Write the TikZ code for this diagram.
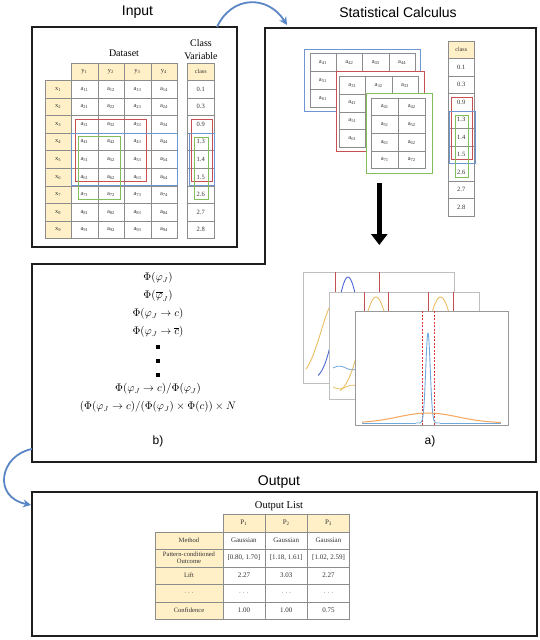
\documentclass[tikz,border=0pt]{standalone}
\usepackage{fontspec}
\setmainfont{Liberation Serif}
\newfontfamily\arialfont{Liberation Sans}
\usetikzlibrary{arrows.meta}
\definecolor{hdr}{HTML}{FFF0C8}
\definecolor{gridcol}{HTML}{8C8C8C}
\definecolor{framecol}{HTML}{1E1E1E}
\definecolor{selred}{HTML}{C85050}
\definecolor{selblue}{HTML}{6E96D2}
\definecolor{selgreen}{HTML}{82BE5A}
\definecolor{arrblue}{HTML}{5A86C5}
\definecolor{pdblue}{HTML}{4A68D0}
\definecolor{pyellow}{HTML}{EBBE64}
\definecolor{pred}{HTML}{C05050}
\definecolor{pblue}{HTML}{6FA8DC}
\definecolor{porange}{HTML}{F5A55A}
\definecolor{pdash}{HTML}{E03030}
\tikzset{
  frame/.style={draw=framecol, line width=1.8pt},
  ttl/.style={font=\arialfont\fontsize{14}{16}\selectfont},
  lbl/.style={font=\arialfont\fontsize{12}{14}\selectfont},
  tcell/.style={draw=gridcol, line width=0.5pt, fill=white, anchor=north west, inner sep=0pt, font=\fontsize{6.5}{7.5}\selectfont, text=black!80},
  hcell/.style={tcell, fill=hdr},
  ocell/.style={tcell, font=\fontsize{7}{8}\selectfont, minimum height=17.5pt, minimum width=42.3pt, align=center},
  selr/.style={draw=selred, line width=1pt},
  selb/.style={draw=selblue, line width=1pt},
  selg/.style={draw=selgreen, line width=1pt},
  bluearrow/.style={draw=arrblue, line width=1.8pt, -{Stealth[length=8pt,width=8pt]}},
  panel/.style={draw=black!25, line width=0.8pt, fill=white},
  fml/.style={font=\fontsize{10.5}{12}\selectfont, inner sep=0pt},
  sq/.style={fill=black, minimum size=4pt, inner sep=0pt},
}
\begin{document}
\begin{tikzpicture}[x=1pt, y=-1pt]
\useasboundingbox (0,0) rectangle (540,640);

% ---------- frames and titles ----------
\draw[frame] (32,27) rectangle (237,247);
\draw[frame] (265,28) -- (536,28) -- (536,462) -- (32,462) -- (32,264) -- (265,264) -- cycle;
\draw[frame] (32,492) rectangle (537,636);
\node[ttl] (tin) at (137.5,12.5) {Input};
\node[ttl] (tsc) at (398,12.5) {Statistical Calculus};
\node[ttl] (tout) at (279,482) {Output};

% ---------- Input table ----------
\node[font=\fontsize{10}{12}\selectfont] (dslbl) at (124,53) {Dataset};
\node[font=\fontsize{10}{13}\selectfont, align=center] (cvlbl) at (201,49.5) {Class\\Variable};
\foreach \c in {1,...,4}
  \node[hcell, minimum width=26.5pt, minimum height=17pt] (iy\c) at ({71+26.5*(\c-1)},63) {y\textsubscript{\c}};
\foreach \r in {1,...,9} {
  \node[hcell, minimum width=26pt, minimum height=17.6pt] (ix\r) at (45,{80+17.6*(\r-1)}) {x\textsubscript{\r}};
  \foreach \c in {1,...,4}
    \node[tcell, minimum width=26.5pt, minimum height=17.6pt] (ia\r\c) at ({71+26.5*(\c-1)},{80+17.6*(\r-1)}) {a\textsubscript{\r\c}};
}
\node[hcell, minimum width=27pt, minimum height=17pt, font=\fontsize{6}{7}\selectfont] (icls) at (187,63) {class};
\foreach \v [count=\r] in {0.1,0.3,0.9,1.3,1.4,1.5,2.6,2.7,2.8}
  \node[tcell, minimum width=27pt, minimum height=17.6pt] (ic\r) at (187,{80+17.6*(\r-1)}) {\v};
\draw[selr] (75,119) rectangle (146,181);
\draw[selb] (71,133) rectangle (177,185);
\draw[selg] (78,136) rectangle (120,199);
\draw[selr] (191,119) rectangle (212,181);
\draw[selb] (189,133) rectangle (214,185);
\draw[selg] (194,137) rectangle (208,199);

% ---------- Statistical calculus: stacked subtables ----------
\draw[selb, fill=white] (304,49) rectangle (420,111);
\foreach \c in {1,...,4}
  \node[tcell, minimum width=26.4pt, minimum height=18pt] (sb1\c) at ({309.5+26.4*(\c-1)},53) {a\textsubscript{4\c}};
\foreach \r/\lab in {2/5,3/6} {
  \node[tcell, minimum width=26.4pt, minimum height=18pt] (sb\r1) at (309.5,{53+18*(\r-1)}) {a\textsubscript{\lab1}};
  \foreach \c in {2,3,4}
    \node[tcell, minimum width=26.4pt, minimum height=18pt] (sb\r\c) at ({309.5+26.4*(\c-1)},{53+18*(\r-1)}) {};
}
\draw[selr, fill=white] (336,71) rectangle (424,151);
\foreach \c in {1,2,3}
  \node[tcell, minimum width=26.3pt, minimum height=17.75pt] (sr1\c) at ({339+26.3*(\c-1)},76) {a\textsubscript{3\c}};
\foreach \r/\lab in {2/4,3/5,4/6} {
  \node[tcell, minimum width=26.3pt, minimum height=17.75pt] (sr\r1) at (339,{76+17.75*(\r-1)}) {a\textsubscript{\lab1}};
  \foreach \c in {2,3}
    \node[tcell, minimum width=26.3pt, minimum height=17.75pt] (sr\r\c) at ({339+26.3*(\c-1)},{76+17.75*(\r-1)}) {};
}
\draw[selg, fill=white] (366,93) rectangle (432,173);
\foreach \r/\lab in {1/4,2/5,3/6,4/7}
  \foreach \c in {1,2}
    \node[tcell, minimum width=27pt, minimum height=17.65pt] (sg\r\c) at ({371+27*(\c-1)},{97.7+17.65*(\r-1)}) {a\textsubscript{\lab\c}};

% class column (calc)
\node[hcell, minimum width=26pt, minimum height=17.6pt, font=\fontsize{6}{7}\selectfont] (scls) at (448,40.7) {class};
\foreach \v [count=\r] in {0.1,0.3,0.9,1.3,1.4,1.5,2.6,2.7,2.8}
  \node[tcell, minimum width=26pt, minimum height=17.5pt] (sc\r) at (448,{58.3+17.5*(\r-1)}) {\v};
\draw[selr] (451,97) rectangle (472,159);
\draw[selb] (449,111) rectangle (475,163);
\draw[selg] (455,115) rectangle (468,177);

% big black arrow
\coordinate (bktop) at (379.3,183);
\coordinate (bkbot) at (379.3,245);
\draw[line width=5pt, -{Triangle[length=11pt,width=16pt]}] (bktop) -- (bkbot);

% ---------- plots ----------
% back panel
\draw[panel] (303,272) rectangle (454,383);
\begin{scope}
  \clip (303,272) rectangle (454,383);
  \draw[pred, line width=0.8pt] (335,272) -- (335,383);
  \draw[pred, line width=0.8pt] (379,272) -- (379,383);
  \draw[pyellow, line width=0.9pt] plot[domain=306:452, samples=80, smooth] (\x, {380-80*exp(-((\x-336)^2)/450)});
  \draw[pdblue, line width=0.9pt] plot[domain=318:452, samples=100, smooth] (\x, {380-103*exp(-((\x-348)^2)/288)});
\end{scope}
% middle panel
\draw[panel] (329,292) rectangle (479,399);
\begin{scope}
  \clip (329,292) rectangle (479,399);
  \foreach \xx in {364,388,428,453}
    \draw[pred, line width=0.8pt] (\xx,292) -- (\xx,399);
  \draw[pyellow, line width=0.9pt] plot[domain=340:412, samples=60, smooth] (\x, {395-98*exp(-((\x-376)^2)/415)});
  \draw[pyellow, line width=0.9pt] plot[domain=405:476, samples=60, smooth] (\x, {395-98*exp(-((\x-440.5)^2)/415)});
  \draw[pblue, line width=0.8pt] plot[domain=333:360, samples=40, smooth] (\x, {368-1.8*sin(14*(\x-333))});
  \draw[pyellow, line width=0.8pt] plot[domain=333:360, samples=40, smooth] (\x, {387+1.8*sin(14*(\x-333))});
\end{scope}
% front panel
\draw[panel, draw=black!40] (355,311) rectangle (508,425);
\begin{scope}
  \clip (355,311) rectangle (508,425);
  \draw[pdash, dashed, line width=0.7pt, dash pattern=on 2pt off 1.5pt] (422,311) -- (422,425);
  \draw[pdash, dashed, line width=0.7pt, dash pattern=on 2pt off 1.5pt] (434,311) -- (434,425);
  \draw[pblue, line width=0.9pt] (362,423) -- (416,423);
  \draw[pblue, line width=0.9pt] (440,423) -- (501,423);
  \draw[pblue, line width=0.9pt] plot[domain=416:440, samples=120, smooth] (\x, {423-90*exp(-((\x-428)^2)/10)});
  \draw[porange, line width=1pt] plot[domain=362:501, samples=100, smooth] (\x, {423-10*exp(-((\x-428)^2)/1800)});
\end{scope}
\node[lbl] (la) at (430,441) {a)};

% ---------- formulas ----------
\node[fml] (f1) at (158,278) {$\Phi(\varphi_J)$};
\node[fml] (f2) at (158,296) {$\Phi(\overline{\varphi}_J)$};
\node[fml] (f3) at (158,314) {$\Phi(\varphi_J \to c)$};
\node[fml] (f4) at (158,332) {$\Phi(\varphi_J \to \overline{c})$};
\node[sq] (q1) at (158,347) {};
\node[sq] (q2) at (158,361) {};
\node[sq] (q3) at (158,375) {};
\node[fml] (f5) at (158,389) {$\Phi(\varphi_J \to c)/\Phi(\varphi_J)$};
\node[fml] (f6) at (158,407) {$(\Phi(\varphi_J \to c)/(\Phi(\varphi_J)\times\Phi(c))\times N$};
\node[lbl] (lb) at (158,441) {b)};

% ---------- output table ----------
\node[font=\fontsize{10.5}{12}\selectfont] (olbl) at (279,506) {Output List};
\foreach \c in {1,2,3}
  \node[ocell, fill=hdr] (op\c) at ({222.5+42.3*(\c-1)},514) {P\textsubscript{\c}};
\foreach \txt [count=\r] in {Method,{Pattern-conditioned\\Outcome},Lift,{$\cdots$},Confidence}
  \node[ocell, fill=hdr, minimum width=67.5pt, font=\fontsize{6.6}{7.4}\selectfont] (orh\r) at (155,{514+17.5*\r}) {\txt};
\foreach \a/\b/\cc [count=\r] in {Gaussian/Gaussian/Gaussian,{[0.80, 1.70]}/{[1.18, 1.61]}/{[1.02, 2.59]},2.27/3.03/2.27,{$\cdots$}/{$\cdots$}/{$\cdots$},1.00/1.00/0.75} {
  \node[ocell] (ov\r1) at (222.5,{514+17.5*\r}) {\a};
  \node[ocell] (ov\r2) at (264.8,{514+17.5*\r}) {\b};
  \node[ocell] (ov\r3) at (307.1,{514+17.5*\r}) {\cc};
}

% ---------- connectors ----------
\coordinate (ina) at (217,27);
\coordinate (scin) at (287,25);
\draw[bluearrow] (ina) .. controls (232,-5) and (268,-5) .. (scin);
\coordinate (scout) at (32,449);
\coordinate (outin) at (31,505);
\draw[bluearrow] (scout) .. controls (0,455) and (-8,497) .. (outin);
\end{tikzpicture}
\end{document}
